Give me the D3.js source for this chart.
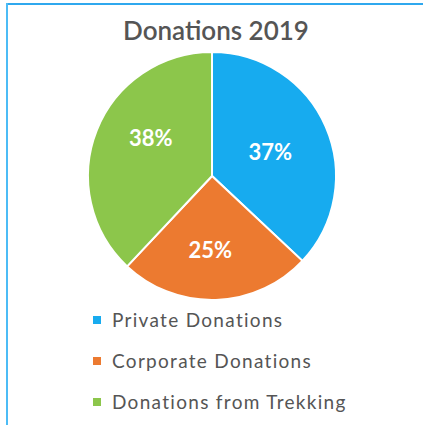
<!DOCTYPE html>
<html>
<head>
<meta charset="utf-8">
<script src="https://cdnjs.cloudflare.com/ajax/libs/d3/7.8.5/d3.min.js"></script>
<style>
    html, body { margin: 0; padding: 0; background: #fff; }
    svg { display: block; }
</style>
</head>
<body>
<svg class="chart"></svg>
<script>
(function() {
    'use strict';

    var categories = ["Private Donations", "Corporate Donations", "Donations from Trekking"],
        values = [37, 25, 38],
        colors = ["#17abef", "#ec7a30", "#8cc64b"];

    var width = 423,
        height = 425,
        radius = 124,
        cx = 212,
        cy = 176;

    var svg = d3.select(".chart")
        .attr("width", width)
        .attr("height", height);

    // frame lines top + left
    svg.append("rect").attr("x", 6).attr("y", 3).attr("width", width - 6).attr("height", 2).attr("fill", "#2fa8ee");
    svg.append("rect").attr("x", 6).attr("y", 3).attr("width", 2).attr("height", height - 3).attr("fill", "#4cbcf6");

    svg.append("text")
        .attr("x", 216)
        .attr("y", 40)
        .attr("text-anchor", "middle")
        .style("font-family", "Lato")
        .style("font-weight", "600")
        .style("font-size", "26px")
        .style("fill", "#555")
        .text("Donations 2019");

    var pie = d3.pie().sort(null).value(function(d) { return d; });
    var arc = d3.arc().innerRadius(0).outerRadius(radius);
    var labelArc = d3.arc().innerRadius(radius * 0.6).outerRadius(radius * 0.6);

    var g = svg.append("g")
        .attr("transform", "translate(" + cx + "," + cy + ")");

    var slices = g.selectAll("g.slice")
        .data(pie(values))
        .enter().append("g")
        .attr("class", "slice");

    slices.append("path")
        .attr("d", arc)
        .attr("fill", function(d, i) { return colors[i]; })
        .attr("stroke", "#fff")
        .attr("stroke-width", 2);

    // small nudges so labels sit like the original
    var nudge = [[-10, 6], [-4, 0], [8, -10]];

    slices.append("text")
        .attr("transform", function(d, i) {
            var c = labelArc.centroid(d);
            return "translate(" + (c[0] + nudge[i][0]) + "," + (c[1] + nudge[i][1]) + ")";
        })
        .attr("text-anchor", "middle")
        .attr("dy", ".35em")
        .style("font-family", "Lato")
        .style("font-weight", "bold")
        .style("font-size", "22px")
        .style("fill", "#fff")
        .text(function(d) { return d.data + "%"; });

    // legend
    var legend = svg.selectAll("g.legend")
        .data(categories)
        .enter().append("g")
        .attr("class", "legend")
        .attr("transform", function(d, i) { return "translate(93," + (320 + i * 41) + ")"; });

    legend.append("rect")
        .attr("x", 0)
        .attr("y", -4)
        .attr("width", 8)
        .attr("height", 8)
        .attr("fill", function(d, i) { return colors[i]; });

    legend.append("text")
        .attr("x", 19)
        .attr("dy", ".35em")
        .style("font-family", "Lato")
        .style("font-size", "19px")
        .style("letter-spacing", "1.3px")
        .style("fill", "#555")
        .text(function(d) { return d; });
})();
</script>
</body>
</html>
